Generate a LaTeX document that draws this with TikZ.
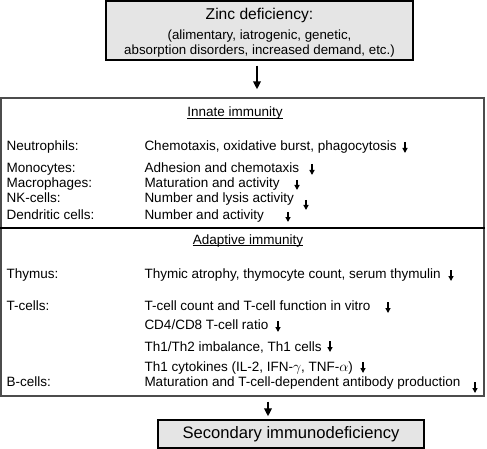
\documentclass[tikz,border=0pt]{standalone}
\usepackage{fontspec}
\setmainfont{Liberation Sans}
\usetikzlibrary{arrows.meta,positioning}

\begin{document}
\begin{tikzpicture}[x=1pt,y=-1pt,greybox/.style={draw=black,line width=1.3pt,fill=black!10,inner sep=0pt},mainbox/.style={draw=black!70,line width=1.3pt,inner sep=0pt},cell/.style={anchor=base west,inner sep=0pt,font=\fontsize{13.5}{15}\selectfont},title/.style={anchor=base,inner sep=0pt,font=\fontsize{13.5}{15}\selectfont},bigarr/.style={-{Triangle[length=8pt,width=7.5pt]},line width=1.8pt},dnarr/.style={-{Triangle[length=5pt,width=5pt]},line width=1.3pt}]
     \useasboundingbox (0,0) rectangle (487,449);

     \node[greybox,minimum width=307pt,minimum height=59pt,align=center,text height=51.8pt,text depth=2.8pt,font=\fontsize{13.3}{15}\selectfont] (zinc) at (259.5,30.5) {{\fontsize{15.6}{15}\selectfont Zinc deficiency:}\\[5pt](alimentary, iatrogenic, genetic,\\absorption disorders, increased demand, etc.)};
     \node[mainbox,minimum width=483pt,minimum height=298pt] (immune) at (242.5,247) {};
     \node[greybox,minimum width=266pt,minimum height=28pt,font=\fontsize{16.6}{18}\selectfont] (sec) at (291,434) {Secondary immunodeficiency};

     \coordinate (upx) at (257,0);
     \coordinate (lowx) at (268,0);
     \coordinate (cut) at (0,228);
     \draw[bigarr,shorten <=5pt,shorten >=8pt] (zinc.south -| upx) -- (immune.north -| upx);
     \draw[bigarr,shorten <=5pt,shorten >=3pt] (immune.south -| lowx) -- (sec.north -| lowx);
     \draw[line width=1.3pt] (immune.west |- cut) -- (immune.east |- cut);

     % innate
     \node[title] (innate) at (235,117) {Innate immunity};
     \draw[line width=.8pt] ([yshift=-1.2pt]innate.base west) -- ([yshift=-1.2pt]innate.base east);

     \node[cell] (c1) at (6.5,151) {Neutrophils:};
     \node[cell] (e1) at (144.3,151) {Chemotaxis, oxidative burst, phagocytosis};
     \node[cell] (c2) at (6.5,173) {Monocytes:};
     \node[cell] (e2) at (144.3,173) {Adhesion and chemotaxis};
     \node[cell] (c3) at (6.5,188) {Macrophages:};
     \node[cell] (e3) at (144.3,188) {Maturation and activity};
     \node[cell] (c4) at (6.5,203) {NK-cells:};
     \node[cell] (e4) at (144.3,203) {Number and lysis activity};
     \node[cell] (c5) at (6.5,219) {Dendritic cells:};
     \node[cell] (e5) at (144.3,219) {Number and activity};

     \draw[dnarr] (405,142) -- (405,153);
     \draw[dnarr] (312,164) -- (312,175);
     \draw[dnarr] (297,180) -- (297,190);
     \draw[dnarr] (306,200) -- (306,210);
     \draw[dnarr] (288,212) -- (288,222);

     % adaptive
     \node[title] (adaptive) at (248,244) {Adaptive immunity};
     \draw[line width=.8pt] ([yshift=-1.2pt]adaptive.base west) -- ([yshift=-1.2pt]adaptive.base east);

     \node[cell] (c6) at (6.5,278) {Thymus:};
     \node[cell] (e6) at (144.3,278) {Thymic atrophy, thymocyte count, serum thymulin};
     \node[cell] (c7) at (6.5,310) {T-cells:};
     \node[cell] (e7) at (144.3,310) {T-cell count and T-cell function in vitro};
     \node[cell] (e8) at (144.3,329) {CD4/CD8 T-cell ratio};
     \node[cell] (e9) at (144.3,351) {Th1/Th2 imbalance, Th1 cells};
     \node[cell] (e10) at (144.3,371) {Th1 cytokines (IL-2, IFN-$\gamma$, TNF-$\alpha$)};
     \node[cell] (c11) at (6.5,386) {B-cells:};
     \node[cell] (e11) at (144.3,386) {Maturation and T-cell-dependent antibody production};

     \draw[dnarr] (451,270) -- (451,281);
     \draw[dnarr] (388,302) -- (388,313);
     \draw[dnarr] (278,321) -- (278,332);
     \draw[dnarr] (330,341) -- (330,352);
     \draw[dnarr] (363,362) -- (363,373);
     \draw[dnarr] (475,382) -- (475,393);
    \end{tikzpicture}
\end{document}
